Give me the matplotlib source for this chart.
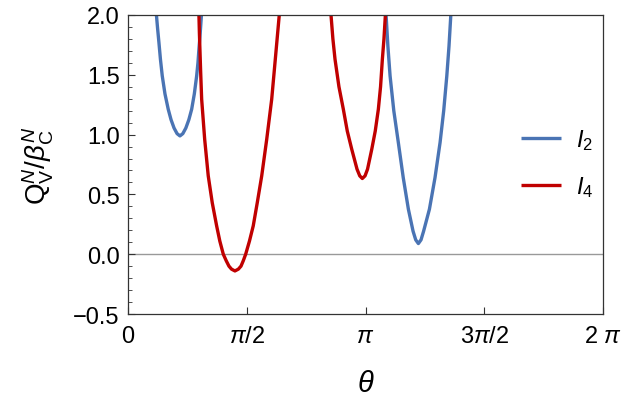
import numpy as np
import matplotlib
matplotlib.use("Agg")
import matplotlib.pyplot as plt
from matplotlib.ticker import MultipleLocator, FixedLocator, FuncFormatter

plt.rcParams['font.family'] = ['Liberation Sans', 'DejaVu Sans']
plt.rcParams['mathtext.fontset'] = 'custom'
plt.rcParams['mathtext.rm'] = 'Liberation Sans'
plt.rcParams['mathtext.it'] = 'Liberation Sans:italic'
plt.rcParams['mathtext.bf'] = 'Liberation Sans:bold'

# I_2 branches (theta, value)
i2_a_theta = [0.377, 0.392, 0.410, 0.430, 0.454, 0.490, 0.533, 0.570, 0.610, 0.650, 0.688,
              0.726, 0.766, 0.806, 0.843, 0.878, 0.909, 0.926, 0.939, 0.956, 0.972]
i2_a_value = [2.000, 1.890, 1.770, 1.630, 1.491, 1.340, 1.212, 1.125, 1.055, 1.008, 0.989,
              1.008, 1.055, 1.125, 1.212, 1.340, 1.491, 1.600, 1.714, 1.850, 2.000]
i2_b_theta = [3.413, 3.437, 3.466, 3.515, 3.575, 3.640, 3.708, 3.770, 3.805, 3.840,
              3.875, 3.909, 3.986, 4.060, 4.127, 4.175, 4.216, 4.245, 4.269]
i2_b_value = [2.000, 1.740, 1.491, 1.200, 0.934, 0.640, 0.376, 0.192, 0.120, 0.089,
              0.120, 0.192, 0.376, 0.640, 0.934, 1.200, 1.491, 1.740, 2.000]

# I_4 branches
i4_a_theta = [0.939, 0.945, 0.952, 0.962, 0.975, 1.015, 1.062, 1.115, 1.173, 1.215, 1.261,
              1.300, 1.336, 1.370, 1.415, 1.460, 1.495, 1.525, 1.557, 1.607, 1.657,
              1.710, 1.769, 1.835, 1.901, 1.951, 2.001]
i4_a_value = [2.000, 1.850, 1.714, 1.520, 1.296, 0.960, 0.655, 0.430, 0.237, 0.110, 0.000,
              -0.055, -0.100, -0.125, -0.140, -0.125, -0.100, -0.055, 0.000, 0.110, 0.237,
              0.430, 0.655, 0.960, 1.296, 1.647, 2.000]
i4_b_theta = [2.685, 2.710, 2.738, 2.790, 2.848, 2.900, 2.959, 3.029, 3.065, 3.099,
              3.135, 3.168, 3.224, 3.270, 3.311, 3.340, 3.364, 3.385, 3.404]
i4_b_value = [2.000, 1.800, 1.630, 1.400, 1.212, 1.030, 0.878, 0.711, 0.655, 0.633,
              0.655, 0.711, 0.878, 1.030, 1.212, 1.400, 1.630, 1.800, 2.000]

xtick_vals = [0, np.pi / 2, np.pi, 3 * np.pi / 2, 2 * np.pi]
xtick_labels = ['0', r'$\pi$/2', r'$\pi$', r'3$\pi$/2', r'2 $\pi$']

blue = '#4a74b4'
red = '#c00000'

fig = plt.figure(figsize=(6.27, 4.10), dpi=100)
ax = fig.add_axes([0.204, 0.2317, 0.758, 0.7293])

ax.axhline(0, color='#999999', lw=1.0, zorder=1)
kw = dict(lw=2.4, solid_joinstyle='round', solid_capstyle='butt')
ax.plot(i2_a_theta, i2_a_value, color=blue, label=r'$I_2$', **kw)
ax.plot(i2_b_theta, i2_b_value, color=blue, **kw)
ax.plot(i4_a_theta, i4_a_value, color=red, label=r'$I_4$', **kw)
ax.plot(i4_b_theta, i4_b_value, color=red, **kw)

ax.set_xlim(0, 2 * np.pi)
ax.set_ylim(-0.5, 2.0)
ax.xaxis.set_major_locator(FixedLocator(xtick_vals))
ax.set_xticklabels(xtick_labels)
ax.yaxis.set_major_locator(MultipleLocator(0.5))
ax.yaxis.set_minor_locator(MultipleLocator(0.1))
ax.yaxis.set_major_formatter(FuncFormatter(lambda v, p: ('%.1f' % v).replace('-', '\u2212')))
ax.tick_params(axis='both', which='major', direction='in', length=5, width=0.8,
               labelsize=17, colors='#333333', labelcolor='black')
ax.tick_params(axis='y', which='minor', direction='in', length=3, width=0.6, colors='#333333')
ax.tick_params(axis='x', pad=8)
ax.tick_params(axis='y', pad=6)
for s in ax.spines.values():
    s.set_color('#333333')
    s.set_linewidth(0.9)

ax.set_xlabel(r'$\theta$', fontsize=21, labelpad=16)
ax.set_ylabel(r'$\mathrm{Q}_\mathrm{V}^{N}/\beta_\mathrm{C}^{N}$', fontsize=20, labelpad=12)

ax.legend(loc='center left', bbox_to_anchor=(0.783, 0.505), frameon=False, fontsize=17,
          handlelength=1.7, handletextpad=0.6, labelspacing=0.95)

fig.savefig('out.png', dpi=100)
